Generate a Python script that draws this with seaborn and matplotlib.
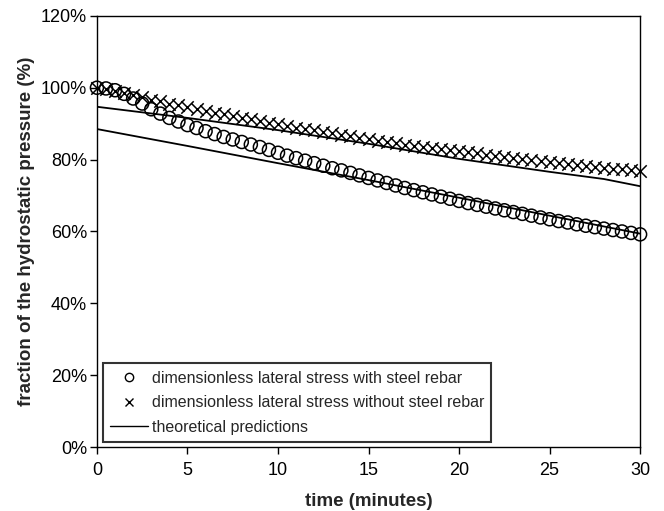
import matplotlib
matplotlib.use("Agg")
import matplotlib.pyplot as plt
from matplotlib.lines import Line2D
import pandas as pd
import seaborn as sns

# measured points, every 0.5 minute
time_min = [i * 0.5 for i in range(61)]
with_rebar = [100.0, 99.8, 99.3, 98.3, 97.0, 95.6, 94.0, 92.8, 91.6, 90.6,
              89.6, 88.8, 87.9, 87.1, 86.3, 85.6, 84.9, 84.2, 83.5, 82.7,
              81.9, 81.1, 80.4, 79.7, 79.0, 78.3, 77.6, 77.0, 76.3, 75.6,
              74.9, 74.2, 73.5, 72.8, 72.1, 71.5, 70.9, 70.3, 69.7, 69.1,
              68.5, 67.9, 67.4, 66.9, 66.4, 65.9, 65.4, 64.9, 64.4, 63.9,
              63.4, 62.9, 62.5, 62.0, 61.6, 61.2, 60.8, 60.4, 60.0, 59.6, 59.2]
without_rebar = [100.0, 99.6, 99.1, 98.5, 97.9, 97.3, 96.7, 96.2, 95.6, 95.1,
                 94.6, 94.1, 93.6, 93.1, 92.7, 92.2, 91.7, 91.2, 90.7, 90.2,
                 89.8, 89.3, 88.9, 88.5, 88.1, 87.7, 87.3, 86.9, 86.5, 86.1,
                 85.7, 85.3, 84.9, 84.6, 84.2, 83.9, 83.5, 83.2, 82.9, 82.6,
                 82.3, 82.0, 81.7, 81.4, 81.1, 80.8, 80.5, 80.2, 80.0, 79.7,
                 79.4, 79.1, 78.9, 78.6, 78.3, 78.0, 77.8, 77.5, 77.3, 77.0, 76.8]

# theoretical predictions
theory_t_upper = [0, 5, 10, 15, 20, 25, 28, 30]
theory_upper = [94.7, 91.6, 88.2, 84.4, 80.2, 76.6, 74.6, 72.6]
theory_t_lower = [0, 5, 10, 15, 20, 25, 30]
theory_lower = [88.5, 83.8, 79.0, 74.3, 69.4, 64.4, 59.4]

y_ticks = [0, 20, 40, 60, 80, 100, 120]
x_ticks = [0, 5, 10, 15, 20, 25, 30]

df = pd.DataFrame({"t": time_min, "with": with_rebar, "without": without_rebar})
df_up = pd.DataFrame({"t": theory_t_upper, "v": theory_upper})
df_lo = pd.DataFrame({"t": theory_t_lower, "v": theory_lower})

sns.set_style("ticks")
plt.rcParams["font.family"] = ["Liberation Sans", "DejaVu Sans"]

fig = plt.figure(figsize=(6.64, 5.11), dpi=100)
ax = fig.add_axes([0.146, 0.125, 0.818, 0.844])

sns.lineplot(data=df_up, x="t", y="v", color="black", linewidth=1.3, ax=ax)
sns.lineplot(data=df_lo, x="t", y="v", color="black", linewidth=1.3, ax=ax)
sns.scatterplot(data=df, x="t", y="without", marker="x", color="black",
                s=80, linewidth=1.1, ax=ax, clip_on=False, zorder=3)
sns.scatterplot(data=df, x="t", y="with", marker="o", facecolors="none",
                edgecolor="black", s=88, linewidth=1.1, ax=ax, clip_on=False, zorder=3)

ax.set_xlim(0, 30)
ax.set_ylim(0, 120)
ax.set_xticks(x_ticks)
ax.set_yticks(y_ticks)
ax.set_yticklabels([f"{v}%" for v in y_ticks])
ax.tick_params(direction="out", length=5, width=1, labelsize=13, colors="black")
ax.tick_params(axis="x", pad=6)
ax.tick_params(axis="y", pad=2)
for sp in ax.spines.values():
    sp.set_color("black")
    sp.set_linewidth(1)

ax.set_xlabel("time (minutes)", fontsize=13.5, fontweight="bold", labelpad=10)
ax.set_ylabel("fraction of the hydrostatic pressure (%)", fontsize=13.5,
              fontweight="bold", labelpad=4)

handles = [
    Line2D([], [], marker="o", linestyle="", markerfacecolor="none",
           markeredgecolor="black", markersize=6, markeredgewidth=1),
    Line2D([], [], marker="x", linestyle="", color="black", markersize=6, markeredgewidth=1),
    Line2D([], [], color="black", linewidth=1),
]
labels = ["dimensionless lateral stress with steel rebar",
          "dimensionless lateral stress without steel rebar",
          "theoretical predictions"]
leg = ax.legend(handles, labels, loc="lower left", bbox_to_anchor=(0.011, 0.012),
                fontsize=11.5, frameon=True, fancybox=False, handlelength=2.4,
                handletextpad=0.2, labelspacing=0.6, borderpad=0.45, borderaxespad=0)
leg.get_frame().set_edgecolor("black")
leg.get_frame().set_linewidth(1.5)

fig.savefig("out.png", dpi=100)
